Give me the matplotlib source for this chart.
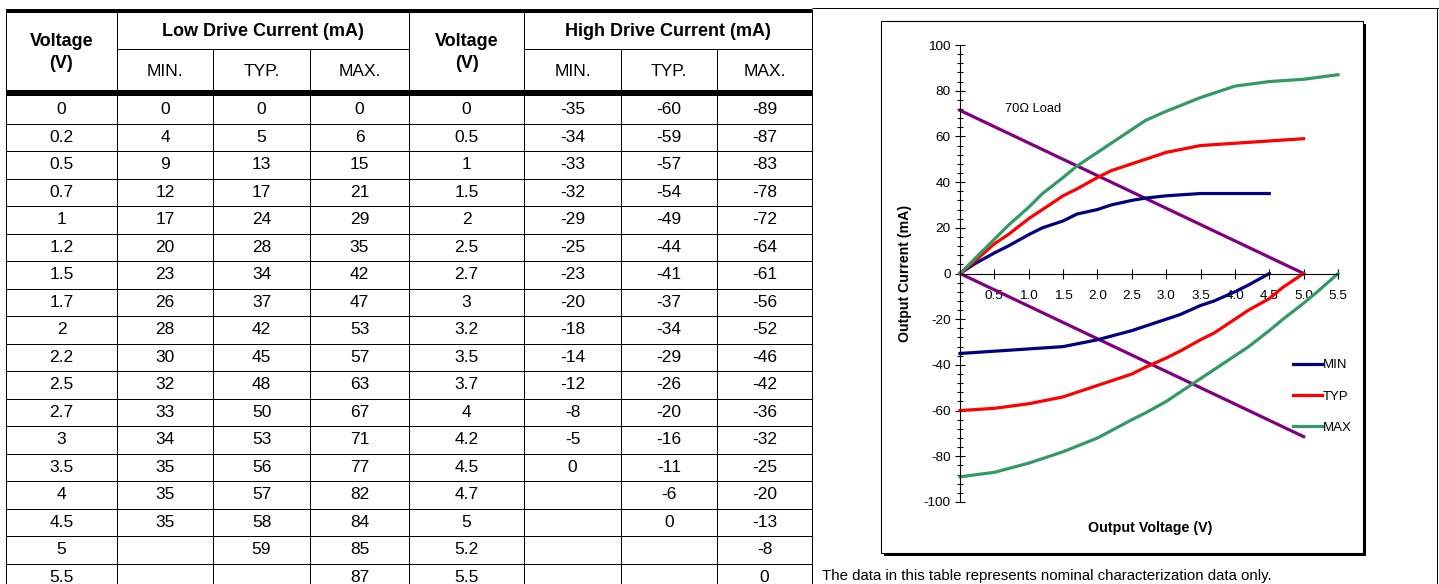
import numpy as np
import matplotlib
matplotlib.use("Agg")
import matplotlib.pyplot as plt
from matplotlib.patches import Rectangle
from matplotlib.lines import Line2D

plt.rcParams['font.family'] = ['Liberation Sans', 'DejaVu Sans']
plt.rcParams['axes.unicode_minus'] = False

# table / chart data
low_v = [0, 0.2, 0.5, 0.7, 1, 1.2, 1.5, 1.7, 2, 2.2, 2.5, 2.7, 3, 3.5, 4, 4.5, 5, 5.5]
low_min = [0, 4, 9, 12, 17, 20, 23, 26, 28, 30, 32, 33, 34, 35, 35, 35, None, None]
low_typ = [0, 5, 13, 17, 24, 28, 34, 37, 42, 45, 48, 50, 53, 56, 57, 58, 59, None]
low_max = [0, 6, 15, 21, 29, 35, 42, 47, 53, 57, 63, 67, 71, 77, 82, 84, 85, 87]
high_v = [0, 0.5, 1, 1.5, 2, 2.5, 2.7, 3, 3.2, 3.5, 3.7, 4, 4.2, 4.5, 4.7, 5, 5.2, 5.5]
high_min = [-35, -34, -33, -32, -29, -25, -23, -20, -18, -14, -12, -8, -5, 0, None, None, None, None]
high_typ = [-60, -59, -57, -54, -49, -44, -41, -37, -34, -29, -26, -20, -16, -11, -6, 0, None, None]
high_max = [-89, -87, -83, -78, -72, -64, -61, -56, -52, -46, -42, -36, -32, -25, -20, -13, -8, 0]

# 70 ohm load lines
load_v = [0, 5.0]
load_hi = [71.4, 0]
load_lo = [0, -71.4]

xticks = [0.5, 1.0, 1.5, 2.0, 2.5, 3.0, 3.5, 4.0, 4.5, 5.0, 5.5]

C_MIN, C_TYP, C_MAX, C_LOAD = '#000080', '#ff0000', '#339966', '#800080'

W, H = 1439, 584
fig = plt.figure(figsize=(W / 100, H / 100), dpi=100)
bg = fig.add_axes([0, 0, 1, 1])
bg.set_xlim(0, W)
bg.set_ylim(H, 0)
bg.axis('off')

def hline(y, x0, x1, lw=1.0):
    bg.plot([x0, x1], [y, y], color='black', lw=lw * 0.72, solid_capstyle='butt')

def vline(x, y0, y1, lw=1.0):
    bg.plot([x, x], [y0, y1], color='black', lw=lw * 0.72, solid_capstyle='butt')

# ---- table ----
cols = [6, 117, 213, 310, 409, 524, 621, 717, 812]
centers = [(a + b) / 2 for a, b in zip(cols[:-1], cols[1:])]
row_top, row_h = 96, 27.5

hline(11, 6, 812, lw=4)
hline(49, 117, 409)
hline(49, 524, 812)
hline(93, 6, 812, lw=6)
for k in range(1, 18):
    hline(row_top + row_h * k, 6, 812)
for x in [6, 117, 409, 524, 812]:
    vline(x, 9, H)
for x in [213, 310, 621, 717]:
    vline(x, 49, H)

hfs, dfs = 13, 12.5
for cx in (centers[0], centers[4]):
    bg.text(cx, 41, 'Voltage', ha='center', va='center', fontsize=hfs, fontweight='bold')
    bg.text(cx, 63, '(V)', ha='center', va='center', fontsize=hfs, fontweight='bold')
bg.text((cols[1] + cols[4]) / 2, 32, 'Low Drive Current (mA)', ha='center', va='center',
        fontsize=hfs, fontweight='bold')
bg.text((cols[5] + cols[8]) / 2, 32, 'High Drive Current (mA)', ha='center', va='center',
        fontsize=hfs, fontweight='bold')
for i, lab in zip([1, 2, 3, 5, 6, 7], ['MIN.', 'TYP.', 'MAX.'] * 2):
    bg.text(centers[i], 72, lab, ha='center', va='center', fontsize=dfs)

table_cols = [low_v, low_min, low_typ, low_max, high_v, high_min, high_typ, high_max]
for ci, col in enumerate(table_cols):
    for ri, v in enumerate(col):
        if v is None:
            continue
        bg.text(centers[ci], row_top + row_h * (ri + 0.5), f'{v:g}', ha='center',
                va='center', fontsize=dfs)

# right panel frame + caption
hline(8, 812, W)
vline(1437, 8, H)
bg.text(822, 583, 'The data in this table represents nominal characterization data only.',
        ha='left', va='bottom', fontsize=10.8)

# chart box with shadow
bg.add_patch(Rectangle((884, 24), 482, 532, facecolor='black', edgecolor='none', zorder=1))
bg.add_patch(Rectangle((881, 21), 482, 532, facecolor='white', edgecolor='black', lw=0.8, zorder=2))
bg.text(905, 273, 'Output Current (mA)', rotation=90, ha='center', va='center',
        fontsize=10.2, fontweight='bold', zorder=3)
bg.text(1150, 528, 'Output Voltage (V)', ha='center', va='center',
        fontsize=10.3, fontweight='bold', zorder=3)

# ---- chart ----
ax = fig.add_axes([960 / W, 1 - 502 / H, 378 / W, 457 / H])
ax.set_zorder(5)
ax.patch.set_visible(False)

def arr(v):
    return np.array([np.nan if a is None else a for a in v], dtype=float)

lw = 2.3
ax.plot(load_v, load_hi, color=C_LOAD, lw=lw, clip_on=False)
ax.plot(load_v, load_lo, color=C_LOAD, lw=lw, clip_on=False)
ax.plot(low_v, arr(low_min), color=C_MIN, lw=lw, clip_on=False)
ax.plot(low_v, arr(low_typ), color=C_TYP, lw=lw, clip_on=False)
ax.plot(low_v, arr(low_max), color=C_MAX, lw=lw, clip_on=False)
ax.plot(high_v, arr(high_min), color=C_MIN, lw=lw, clip_on=False)
ax.plot(high_v, arr(high_typ), color=C_TYP, lw=lw, clip_on=False)
ax.plot(high_v, arr(high_max), color=C_MAX, lw=lw, clip_on=False)

ax.set_xlim(0, 5.5)
ax.set_ylim(-100, 100)
for s in ['top', 'right']:
    ax.spines[s].set_visible(False)
ax.spines['bottom'].set_position(('data', 0))
ax.spines['left'].set_linewidth(0.8)
ax.spines['bottom'].set_linewidth(0.8)

ax.set_yticks(np.arange(-100, 101, 20))
ax.set_yticks(np.arange(-100, 101, 4), minor=True)
ax.set_xticks(xticks)
ax.set_xticklabels([f'{t:.1f}' for t in xticks])
ax.tick_params(axis='both', which='major', direction='inout', length=7.5, width=0.8,
               labelsize=9.7)
ax.tick_params(axis='y', which='minor', direction='inout', length=5, width=0.8)
ax.tick_params(axis='x', pad=8)
ax.tick_params(axis='y', pad=3)

ax.text(0.655, 72, '70\u03a9 Load', fontsize=9.3, va='center', ha='left')

handles = [Line2D([], [], color=c, lw=lw) for c in (C_MIN, C_TYP, C_MAX)]
ax.legend(handles, ['MIN', 'TYP', 'MAX'], loc='upper left', bbox_to_anchor=(1293, 359),
          bbox_transform=bg.transData, frameon=False, borderpad=0, borderaxespad=0,
          fontsize=9.5, handlelength=2.2, handletextpad=0.05, labelspacing=1.45)

fig.savefig('out.png', dpi=100)
